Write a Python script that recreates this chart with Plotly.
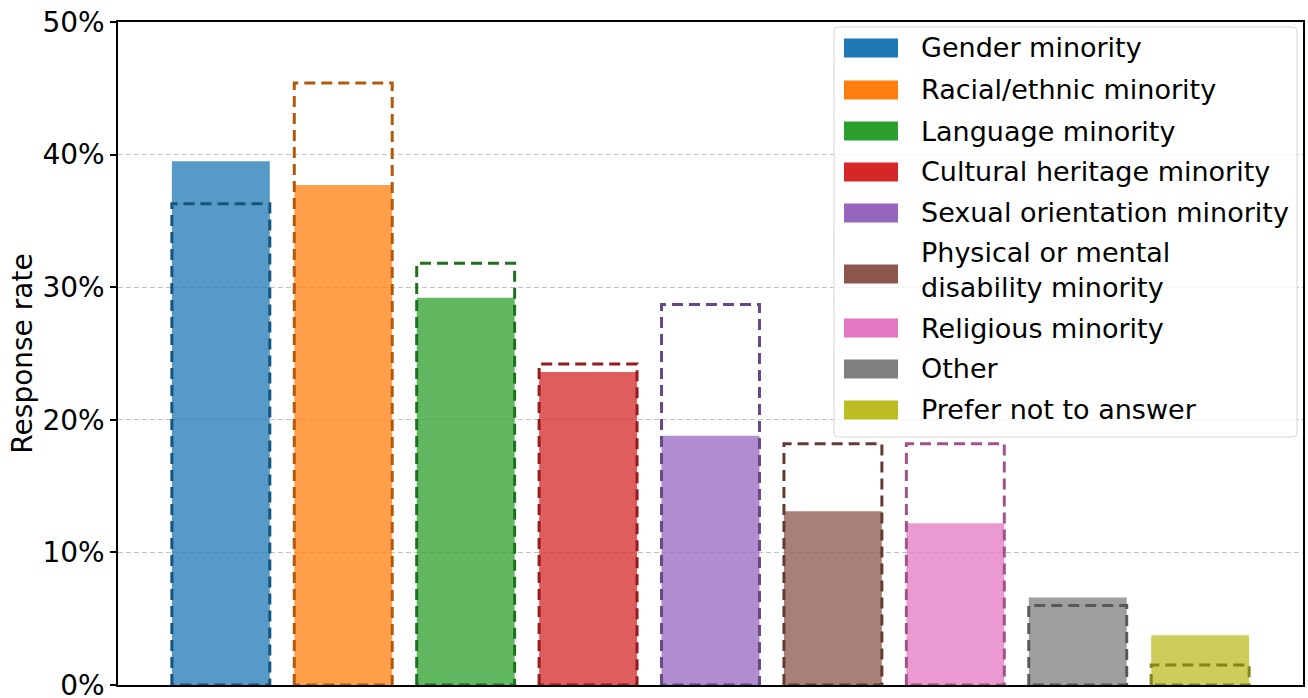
import plotly.graph_objects as go

categories = ["Gender minority", "Racial/ethnic minority", "Language minority",
              "Cultural heritage minority", "Sexual orientation minority",
              "Physical or mental<br>disability minority", "Religious minority",
              "Other", "Prefer not to answer"]
filled_rate = [39.5, 37.7, 29.2, 23.6, 18.8, 13.1, 12.2, 6.6, 3.75]
dashed_rate = [36.3, 45.4, 31.8, 24.2, 28.7, 18.2, 18.2, 6.0, 1.5]
tick_vals = [0, 10, 20, 30, 40, 50]
tick_text = ["0%", "10%", "20%", "30%", "40%", "50%"]

colors = [(31, 119, 180), (255, 127, 14), (44, 160, 44), (214, 39, 40),
          (148, 103, 189), (140, 86, 75), (227, 119, 194), (127, 127, 127),
          (188, 189, 34)]

# ---- layout constants (pixels in the 1308x698 page) ----
W, H = 1308, 698
ML, MR, MT, MB = 118, 5, 22, 13
BAR_W = 0.8
FONT = "DejaVu Sans"
# legend geometry (pixels)
LEG_BOX = (834, 27, 1297, 437)
SW_X0, SW_X1, SW_H = 844, 898, 19
TXT_X = 919
row_text_y = [48, 90, 131, 172, 213, 270, 328, 369, 410]
row_swatch_y = [48, 90, 131, 172, 213, 274, 328, 369, 410]

PW, PH = W - ML - MR, H - MT - MB


def px(xp):
    return (xp - ML) / PW


def py(yp):
    return (H - MB - yp) / PH


fig = go.Figure()

# filled bars (semi-transparent)
for i, (cat, v, c) in enumerate(zip(categories, filled_rate, colors)):
    fig.add_trace(go.Bar(
        x=[i], y=[v], width=BAR_W,
        marker=dict(color=f"rgba({c[0]},{c[1]},{c[2]},0.75)", line=dict(width=0)),
        showlegend=False, hoverinfo="skip",
    ))

# dashed outlines
for i, (v, c) in enumerate(zip(dashed_rate, colors)):
    dk = tuple(int(round(ch * 0.7)) for ch in c)
    x0, x1 = i - BAR_W / 2, i + BAR_W / 2
    fig.add_trace(go.Scatter(
        x=[x0, x0, x1, x1, x0], y=[0, v, v, 0, 0], mode="lines",
        line=dict(color=f"rgb({dk[0]},{dk[1]},{dk[2]})", width=3, dash="11px,6px"),
        showlegend=False, hoverinfo="skip",
    ))

# ---- manual legend (box, swatches, text) ----
shapes = []
annotations = []
bx0, by0, bx1, by1 = LEG_BOX
r = 5
path = (f"M {px(bx0 + r)},{py(by0)} L {px(bx1 - r)},{py(by0)} "
        f"Q {px(bx1)},{py(by0)} {px(bx1)},{py(by0 + r)} "
        f"L {px(bx1)},{py(by1 - r)} Q {px(bx1)},{py(by1)} {px(bx1 - r)},{py(by1)} "
        f"L {px(bx0 + r)},{py(by1)} Q {px(bx0)},{py(by1)} {px(bx0)},{py(by1 - r)} "
        f"L {px(bx0)},{py(by0 + r)} Q {px(bx0)},{py(by0)} {px(bx0 + r)},{py(by0)} Z")
shapes.append(dict(type="path", xref="paper", yref="paper", path=path,
                   fillcolor="rgba(255,255,255,0.8)",
                   line=dict(color="#d6d6d6", width=1), layer="above"))
for cat, c, ty, sy in zip(categories, colors, row_text_y, row_swatch_y):
    shapes.append(dict(type="rect", xref="paper", yref="paper",
                       x0=px(SW_X0), x1=px(SW_X1),
                       y0=py(sy + SW_H / 2), y1=py(sy - SW_H / 2),
                       fillcolor=f"rgb({c[0]},{c[1]},{c[2]})",
                       line=dict(width=0), layer="above"))
    annotations.append(dict(xref="paper", yref="paper", x=px(TXT_X), y=py(ty),
                            xanchor="left", yanchor="middle", align="left",
                            text=cat, showarrow=False,
                            font=dict(family=FONT, size=27, color="black")))

fig.update_layout(
    width=W, height=H,
    barmode="overlay",
    showlegend=False,
    plot_bgcolor="white", paper_bgcolor="white",
    margin=dict(l=ML, r=MR, t=MT, b=MB, autoexpand=False),
    font=dict(family=FONT, size=28, color="black"),
    shapes=shapes,
    annotations=annotations,
    xaxis=dict(
        range=[-0.84, 8.84], showticklabels=False, ticks="", showgrid=False,
        zeroline=False, showline=True, linecolor="black", linewidth=1.5, mirror=True,
        automargin=False,
    ),
    yaxis=dict(
        range=[0, 50], tickvals=tick_vals, ticktext=tick_text,
        ticks="outside", ticklen=6, tickwidth=1.5, tickcolor="black",
        ticklabeloverflow="allow", automargin=False,
        showgrid=True, gridcolor="#c4c4c4", griddash="5px,3px", gridwidth=1,
        zeroline=False, showline=True, linecolor="black", linewidth=1.5, mirror=True,
        title=dict(text="Response rate", font=dict(family=FONT, size=28), standoff=2),
        tickfont=dict(family=FONT, size=28),
    ),
)

fig.write_html("out.html", config={"displayModeBar": False},
               post_script="document.body.style.margin='0';")
